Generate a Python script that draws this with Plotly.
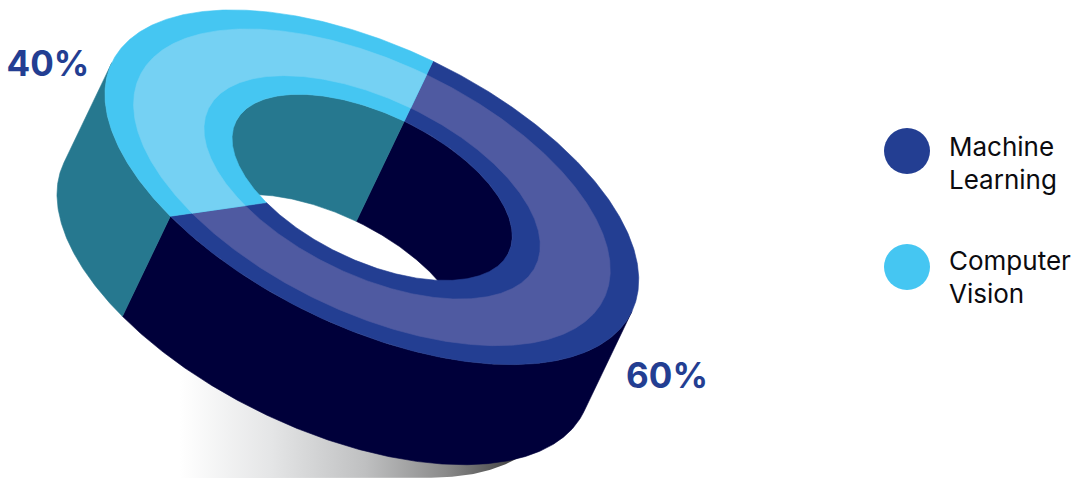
import numpy as np
import plotly.graph_objects as go

# ---- data ----
categories = ["Machine Learning", "Computer Vision"]
legend_lines = ["Machine<br>Learning", "Computer<br>Vision"]
values = [60, 40]
value_labels = ["60%", "40%"]

# ---- styling / projection ----
W, H = 1087, 479
CX, CY = 372.5, 187.5
A, B = 289.0, 140.0
A_RIGHT = 287.5
TILT = np.radians(25.6)
DEPTH = 111.0
START_DEG = -90.0
R_OUT, R_BAND_OUT, R_BAND_IN, R_HOLE = 1.0, 0.893, 0.63, 0.525

TOP = ["#233E92", "#45C6F2"]
BAND = ["#4F5AA1", "#75D1F3"]
SIDE = ["#00003A", "#26788F"]
TEXT = "#233E92"
SHADOW_LEFT = 180.0


def proj(t_deg, r=1.0, drop=0.0):
    t = np.radians(np.asarray(t_deg, float))
    c, s = np.cos(t), np.sin(t)
    u = r * np.where(c > 0, A_RIGHT, A) * c
    v = r * B * s + drop
    return (CX + u * np.cos(TILT) - v * np.sin(TILT),
            CY + u * np.sin(TILT) + v * np.cos(TILT))


def arc(a, b):
    return np.linspace(a, b, max(3, int(abs(b - a) * 2)))


def annular(a, b, r0, r1):
    ts = arc(a, b)
    x0, y0 = proj(ts, r0)
    x1, y1 = proj(ts[::-1], r1)
    return np.r_[x0, x1, x0[0]], np.r_[y0, y1, y0[0]]


def sweep(a, b, r):
    if b <= a:
        return None
    ts = arc(a, b)
    x0, y0 = proj(ts, r)
    x1, y1 = proj(ts[::-1], r, DEPTH)
    return np.r_[x0, x1, x0[0]], np.r_[y0, y1, y0[0]]


def poly(fig, xy, color, **kw):
    if xy is None:
        return
    fig.add_trace(go.Scatter(x=xy[0], y=xy[1], mode="lines", fill="toself",
                             fillcolor=color, line=dict(width=0.6, color=color),
                             hoverinfo="skip", showlegend=False, **kw))


# slice angles come from the values
total = sum(values)
edges = [START_DEG]
for v in values:
    edges.append(edges[-1] + 360.0 * v / total)

fig = go.Figure()

# ground shadow: right part of the lower rim shifted down-left, then flat along
# the page foot to its left edge, with its top tucked under the body
ts = np.linspace(0, 100, 201)
sx, sy = proj(ts, 1.0, DEPTH)
sx, sy = sx - 34, np.minimum(sy + 13, H - 1)
last = int(np.argmax(sy))
shadow_x = np.r_[sx[:last + 1], SHADOW_LEFT, SHADOW_LEFT, sx[0]]
shadow_y = np.r_[sy[:last + 1], H - 1, H - 120, sy[0] - 30]
fig.add_trace(go.Scatter(
    x=shadow_x, y=shadow_y, mode="lines", fill="toself", line=dict(width=0),
    fillcolor="rgba(0,0,0,0)",
    fillgradient=dict(type="horizontal", colorscale=[
        [0.0, "#FFFFFF"], [0.25, "#E4E5E6"], [0.5, "#BFC0C1"],
        [0.72, "#8A8A8A"], [0.86, "#555555"], [1.0, "#222222"]]),
    hoverinfo="skip", showlegend=False))

# hole inner wall: far side (t in 180..360)
for i in range(len(values)):
    for off in (0, 360):
        poly(fig, sweep(max(edges[i] + off, 180), min(edges[i + 1] + off, 360), R_HOLE), SIDE[i])

# outer wall: near side (t in 0..180)
for i in range(len(values)):
    for off in (0, -360):
        poly(fig, sweep(max(edges[i] + off, 0), min(edges[i + 1] + off, 180), R_OUT), SIDE[i])

# top face
for i in range(len(values)):
    poly(fig, annular(edges[i], edges[i + 1], R_OUT, R_HOLE), TOP[i])
    poly(fig, annular(edges[i], edges[i + 1], R_BAND_OUT, R_BAND_IN), BAND[i])

# legend dots
fig.add_trace(go.Scatter(
    x=[907, 907], y=[151, 267], mode="markers",
    marker=dict(size=46, color=TOP, line=dict(width=0)),
    hoverinfo="skip", showlegend=False))
# legend text
fig.add_trace(go.Scatter(
    x=[949, 949], y=[166, 280], mode="text",
    text=legend_lines, textposition="middle right",
    textfont=dict(family="Inter, Lato, sans-serif", size=26, color="#0B0B0F"),
    hoverinfo="skip", showlegend=False))

# value labels
fig.add_trace(go.Scatter(
    x=[667, 48], y=[379, 67], mode="text", text=value_labels,
    textfont=dict(family="Inter, sans-serif", size=35, color=TEXT, weight=700),
    hoverinfo="skip", showlegend=False))

fig.update_layout(
    width=W, height=H, margin=dict(l=0, r=0, t=0, b=0),
    paper_bgcolor="white", plot_bgcolor="white", showlegend=False,
    xaxis=dict(range=[0, W], visible=False, fixedrange=True),
    yaxis=dict(range=[H, 0], visible=False, fixedrange=True),
)
fig.write_html("out.html", config=dict(displayModeBar=False),
               post_script="document.body.style.margin='0';document.body.style.overflow='hidden';")
